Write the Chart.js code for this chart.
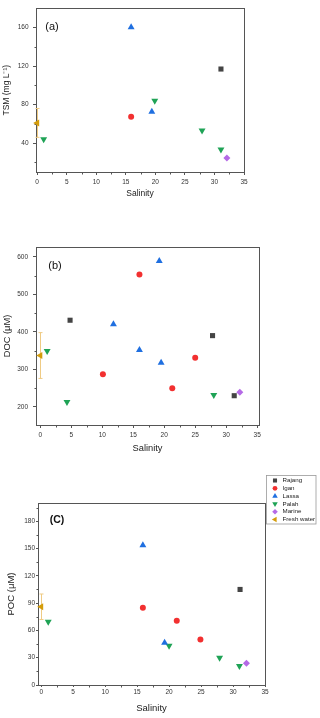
<!DOCTYPE html>
<html>
<head>
<meta charset="utf-8">
<script src="https://cdn.jsdelivr.net/npm/chart.js@4.4.1/dist/chart.umd.min.js"></script>
<style>
  body { margin: 0; background: #fff; }
  #wrap { position: relative; width: 320px; height: 718px; }
  canvas { position: absolute; left: 0; }
</style>
</head>
<body>
<div id="wrap">
  <canvas id="tsmChart" width="320" height="230" style="top:0px"></canvas>
  <canvas id="docChart" width="320" height="240" style="top:230px"></canvas>
  <canvas id="pocChart" width="320" height="248" style="top:470px"></canvas>
</div>
<script>
// DATA
const seriesNames = ["Rajang", "Igan", "Lassa", "Palah", "Marine", "Fresh water"];
const salinityTicks = [0, 5, 10, 15, 20, 25, 30, 35];

// (a) TSM
const tsmTicks = [40, 80, 120, 160];
const tsmRajangX = [31.1], tsmRajangY = [117];
const tsmIganX = [15.9], tsmIganY = [67.5];
const tsmLassaX = [15.9, 19.4], tsmLassaY = [160.5, 72.6];
const tsmPalahX = [1.1, 19.9, 27.9, 31.1], tsmPalahY = [44, 84, 53, 33.5];
const tsmMarineX = [32.1], tsmMarineY = [24.6];
const tsmFreshX = [0], tsmFreshY = [61], tsmFreshErr = [15];

// (b) DOC
const docTicks = [200, 300, 400, 500, 600];
const docRajangX = [4.8, 27.8, 31.3], docRajangY = [431, 390, 230];
const docIganX = [10.1, 16.0, 21.3, 25.0], docIganY = [287, 553, 250, 331];
const docLassaX = [11.8, 16.0, 19.2, 19.5], docLassaY = [420, 352, 589, 318];
const docPalahX = [1.1, 4.3, 28.0], docPalahY = [349, 213, 232];
const docMarineX = [32.2], docMarineY = [239];
const docFreshX = [0], docFreshY = [337], docFreshErr = [61];

// (c) POC
const pocTicks = [0, 30, 60, 90, 120, 150, 180];
const pocRajangX = [31.1], pocRajangY = [105];
const pocIganX = [15.9, 21.2, 24.9], pocIganY = [85, 70.5, 50];
const pocLassaX = [15.9, 19.3], pocLassaY = [153.5, 46.5];
const pocPalahX = [1.1, 20.0, 27.9, 31.0], pocPalahY = [69.5, 43, 30, 21];
const pocMarineX = [32.1], pocMarineY = [23.8];
const pocFreshX = [0], pocFreshY = [86], pocFreshErr = [14];

// 🔹 marker styles (same order as seriesNames)
const markers = [
  { style: "rect",     rot: 0,   color: "#444444", r: 3.6 },
  { style: "circle",   rot: 0,   color: "#F23030", r: 3.0 },
  { style: "triangle", rot: 0,   color: "#1F6FE0", r: 4.0 },
  { style: "triangle", rot: 180, color: "#1FA356", r: 4.0 },
  { style: "rectRot",  rot: 0,   color: "#B56AE6", r: 3.5 },
  { style: "triangle", rot: -90, color: "#D49C0A", r: 4.0 }
];

function pts(xs, ys) {
  return xs.map((x, i) => ({ x: x, y: ys[i] }));
}

function buildDatasets(list, err) {
  return list.map((pair, i) => {
    const m = markers[i];
    const ds = {
      label: seriesNames[i],
      data: pts(pair[0], pair[1]),
      pointStyle: m.style,
      rotation: m.rot,
      pointRadius: m.r,
      pointHoverRadius: m.r,
      backgroundColor: m.color,
      borderColor: m.color,
      borderWidth: 0,
      clip: false
    };
    if (i === 5) ds.err = err;
    return ds;
  });
}

// 🔥 frame, minor ticks, error bars, panel tag, legend
const panelPlugin = {
  id: "panel",
  beforeDatasetsDraw(chart) {
    const { ctx, chartArea: a } = chart;
    const xs = chart.scales.x, ys = chart.scales.y;
    const l = Math.round(a.left) + 0.5, r = Math.round(a.right) + 0.5;
    const t = Math.round(a.top) + 0.5, b = Math.round(a.bottom) + 0.5;
    ctx.save();
    ctx.strokeStyle = "#555";
    ctx.lineWidth = 1;
    ctx.strokeRect(l, t, r - l, b - t);

    // minor ticks
    ctx.beginPath();
    ["x", "y"].forEach(id => {
      const sc = chart.scales[id];
      const v = sc.ticks.map(tk => tk.value);
      const step = v[1] - v[0];
      const minors = [v[0] - step / 2];
      v.forEach(val => minors.push(val + step / 2));
      minors.forEach(mv => {
        if (mv <= sc.min || mv >= sc.max) return;
        const p = Math.round(sc.getPixelForValue(mv)) + 0.5;
        if (id === "x") { ctx.moveTo(p, b); ctx.lineTo(p, b + 2); }
        else { ctx.moveTo(l, p); ctx.lineTo(l - 2, p); }
      });
    });
    ctx.stroke();

    // error bars
    chart.data.datasets.forEach(ds => {
      if (!ds.err) return;
      ds.data.forEach((p, i) => {
        const px = Math.round(xs.getPixelForValue(p.x)) + 0.5;
        const top = ys.getPixelForValue(p.y + ds.err[i]);
        const bot = ys.getPixelForValue(p.y - ds.err[i]);
        ctx.strokeStyle = "#EFCB84";
        ctx.beginPath();
        ctx.moveTo(px, top); ctx.lineTo(px, bot);
        ctx.moveTo(px - 2, top); ctx.lineTo(px + 2, top);
        ctx.moveTo(px - 2, bot); ctx.lineTo(px + 2, bot);
        ctx.stroke();
      });
    });
    ctx.restore();
  },
  afterDraw(chart, args, opts) {
    const { ctx, chartArea: a } = chart;
    ctx.save();
    // panel tag
    ctx.fillStyle = "#111";
    ctx.font = opts.tagFont;
    ctx.textAlign = "center";
    ctx.textBaseline = "middle";
    ctx.fillText(opts.tag, a.left + opts.tagDx, a.top + opts.tagDy);

    // legend
    if (opts.legend) {
      const lg = opts.legend;
      ctx.strokeStyle = "#999";
      ctx.lineWidth = 0.8;
      ctx.strokeRect(lg.x, lg.y, lg.w, lg.h);
      ctx.font = "6.2px 'Liberation Sans', Arial, sans-serif";
      ctx.textAlign = "left";
      chart.data.datasets.forEach((ds, i) => {
        const yy = lg.y + lg.first + i * lg.gap;
        ctx.fillStyle = ds.backgroundColor;
        Chart.helpers.drawPoint(ctx, {
          pointStyle: ds.pointStyle, rotation: ds.rotation,
          radius: ds.pointRadius * 0.8, borderWidth: 0
        }, lg.x + 8.5, yy);
        ctx.fillStyle = "#222";
        ctx.fillText(ds.label, lg.x + 16, yy);
      });
    }
    ctx.restore();
  }
};

function makeChart(id, c) {
  const canvas = document.getElementById(id);
  const H = canvas.height;
  const font = "'Liberation Sans', Arial, sans-serif";
  return new Chart(canvas, {
    type: "scatter",
    data: { datasets: c.datasets },
    plugins: [panelPlugin],
    options: {
      responsive: false,
      animation: false,
      events: [],
      layout: {
        padding: { left: 0, top: c.T, right: 320 - c.R, bottom: H - c.B - c.xH }
      },
      plugins: {
        legend: { display: false },
        tooltip: { enabled: false },
        panel: {
          tag: c.tag, tagFont: c.tagFont, tagDx: c.tagDx, tagDy: c.tagDy,
          legend: c.legend
        }
      },
      scales: {
        x: {
          type: "linear",
          min: c.xMin, max: c.xMax,
          afterBuildTicks: s => { s.ticks = salinityTicks.map(v => ({ value: v })); },
          afterFit: s => { s.height = c.xH; },
          grid: { drawOnChartArea: false, drawTicks: true, tickLength: c.tickLen, color: "#555" },
          border: { display: false },
          ticks: { color: "#333", padding: c.xPad, maxRotation: 0, font: { family: font, size: c.tickSize } },
          title: {
            display: true, text: "Salinity", color: "#222",
            padding: { top: 0, bottom: c.titlePadX },
            font: { family: font, size: c.titleSize }
          }
        },
        y: {
          type: "linear",
          min: c.yMin, max: c.yMax,
          afterBuildTicks: s => { s.ticks = c.yTicks.map(v => ({ value: v })); },
          afterFit: s => { s.width = c.L; },
          grid: { drawOnChartArea: false, drawTicks: true, tickLength: c.tickLen, color: "#555" },
          border: { display: false },
          ticks: { color: "#333", padding: c.yPad, font: { family: font, size: c.tickSize } },
          title: {
            display: true, text: c.yTitle, color: "#222",
            padding: { top: c.titlePadY, bottom: 0 },
            font: { family: font, size: c.titleSize }
          }
        }
      }
    }
  });
}

// 🔥 CHARTS
makeChart("tsmChart", {
  datasets: buildDatasets([
    [tsmRajangX, tsmRajangY], [tsmIganX, tsmIganY], [tsmLassaX, tsmLassaY],
    [tsmPalahX, tsmPalahY], [tsmMarineX, tsmMarineY], [tsmFreshX, tsmFreshY]
  ], tsmFreshErr),
  xMin: -0.2, xMax: 35, yMin: 10, yMax: 180, yTicks: tsmTicks,
  yTitle: "TSM (mg L\u207B\u00B9)",
  L: 36, R: 244, T: 4, B: 172, xH: 29,
  tickLen: 3, xPad: 3, yPad: 4.5, tickSize: 6.5,
  titleSize: 8.5, titlePadX: 2, titlePadY: 1.5,
  tag: "(a)", tagFont: "11px 'Liberation Sans', Arial, sans-serif", tagDx: 16, tagDy: 18.5
});

makeChart("docChart", {
  datasets: buildDatasets([
    [docRajangX, docRajangY], [docIganX, docIganY], [docLassaX, docLassaY],
    [docPalahX, docPalahY], [docMarineX, docMarineY], [docFreshX, docFreshY]
  ], docFreshErr),
  xMin: -0.7, xMax: 35.3, yMin: 152, yMax: 626, yTicks: docTicks,
  yTitle: "DOC (\u03BCM)",
  L: 36, R: 259, T: 17, B: 195, xH: 31.5,
  tickLen: 3, xPad: 3, yPad: 5, tickSize: 6.5,
  titleSize: 9.3, titlePadX: 2, titlePadY: 2,
  tag: "(b)", tagFont: "11px 'Liberation Sans', Arial, sans-serif", tagDx: 19, tagDy: 19
});

makeChart("pocChart", {
  datasets: buildDatasets([
    [pocRajangX, pocRajangY], [pocIganX, pocIganY], [pocLassaX, pocLassaY],
    [pocPalahX, pocPalahY], [pocMarineX, pocMarineY], [pocFreshX, pocFreshY]
  ], pocFreshErr),
  xMin: -0.5, xMax: 35, yMin: 0, yMax: 200, yTicks: pocTicks,
  yTitle: "POC (\u03BCM)",
  L: 38, R: 265, T: 33, B: 215, xH: 31.5,
  tickLen: 2, xPad: 1, yPad: 1, tickSize: 6.5,
  titleSize: 9.5, titlePadX: 2, titlePadY: 6,
  tag: "(C)", tagFont: "bold 10.5px 'Liberation Sans', Arial, sans-serif", tagDx: 19, tagDy: 17,
  legend: { x: 266.5, y: 5.5, w: 49.5, h: 48.5, first: 5, gap: 7.8 }
});
</script>
</body>
</html>
